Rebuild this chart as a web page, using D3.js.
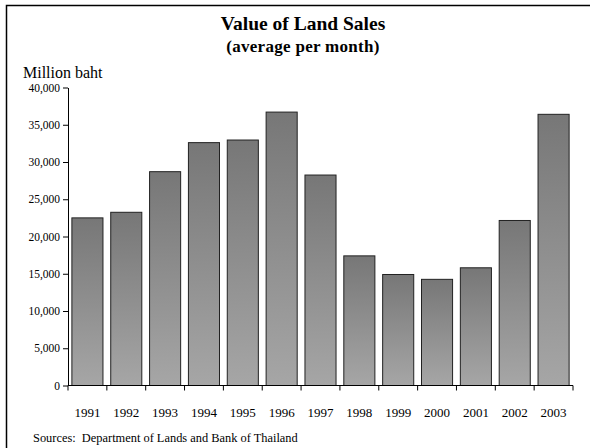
<!DOCTYPE html>
<html>
<head>
<meta charset="utf-8">
<script src="https://cdn.jsdelivr.net/npm/d3@7"></script>
<style>
  body { margin: 0; background: #fff; }
  svg { display: block; font-family: "Liberation Serif", "Times New Roman", serif; }
  .axis path, .axis line { stroke: #000; }
  .axis text { fill: #000; }
</style>
</head>
<body>
<div id="chart"></div>
<script>
// data
const years = ['1991', '1992', '1993', '1994', '1995', '1996', '1997',
  '1998', '1999', '2000', '2001', '2002', '2003'];
const sales = [22500, 23250, 28700, 32600, 32950, 36700, 28250,
  17400, 14900, 14250, 15800, 22150, 36400];
const yTicks = [0, 5000, 10000, 15000, 20000, 25000, 30000, 35000, 40000];

const width = 590;
const height = 448;
const margin = { top: 87.5, right: 17, bottom: 62.5, left: 68 };
const innerW = width - margin.left - margin.right;
const innerH = height - margin.top - margin.bottom;
const serif = '"Liberation Serif", "Times New Roman", serif';

const svg = d3.select('#chart').append('svg')
    .attr('width', width)
    .attr('height', height);

// frame
svg.append('rect')
    .attr('x', 6.5)
    .attr('y', 5.5)
    .attr('width', width + 10)
    .attr('height', height + 10)
    .attr('fill', 'none')
    .attr('stroke', '#000')
    .attr('stroke-width', 1.5);

const grad = svg.append('defs').append('linearGradient')
    .attr('id', 'barGrad')
    .attr('x1', 0).attr('y1', 0)
    .attr('x2', 0).attr('y2', 1);
grad.append('stop').attr('offset', '0%').attr('stop-color', '#777');
grad.append('stop').attr('offset', '100%').attr('stop-color', '#a6a6a6');

// titles
svg.append('text')
    .attr('x', 303)
    .attr('y', 30)
    .attr('text-anchor', 'middle')
    .attr('font-size', '19.5px')
    .attr('font-weight', 'bold')
    .text('Value of Land Sales');

svg.append('text')
    .attr('x', 303)
    .attr('y', 52)
    .attr('text-anchor', 'middle')
    .attr('font-size', '17px')
    .attr('font-weight', 'bold')
    .attr('letter-spacing', '0.3px')
    .text('(average per month)');

svg.append('text')
    .attr('x', 23)
    .attr('y', 78)
    .attr('font-size', '16px')
    .text('Million baht');

svg.append('text')
    .attr('x', 33)
    .attr('y', 442)
    .attr('font-size', '12.4px')
    .attr('xml:space', 'preserve')
    .text('Sources:  Department of Lands and Bank of Thailand');

const g = svg.append('g')
    .attr('transform', `translate(${margin.left}, ${margin.top})`);

const x = d3.scaleBand()
    .domain(years)
    .range([0, innerW])
    .paddingInner(0.2)
    .paddingOuter(0.1);

const y = d3.scaleLinear()
    .domain([0, 40000])
    .range([innerH, 0]);

// bars
g.selectAll('.bar')
    .data(sales)
  .enter().append('rect')
    .attr('class', 'bar')
    .attr('x', (d, i) => x(years[i]))
    .attr('y', d => y(d))
    .attr('width', x.bandwidth())
    .attr('height', d => innerH - y(d))
    .attr('fill', 'url(#barGrad)')
    .attr('stroke', '#222')
    .attr('stroke-width', 1);

// y axis
g.append('g')
    .attr('class', 'y axis')
    .call(d3.axisLeft(y).tickValues(yTicks).tickSize(5).tickPadding(3)
      .tickFormat(d3.format(',')).tickSizeOuter(0))
    .attr('font-family', serif)
    .attr('font-size', '11.5px');

// x axis with ticks on band edges
const xAxisG = g.append('g')
    .attr('class', 'x axis')
    .attr('transform', `translate(0, ${innerH})`);

xAxisG.append('line')
    .attr('x1', 0).attr('x2', innerW)
    .attr('y1', 0).attr('y2', 0)
    .attr('stroke', '#000');

const edges = d3.range(years.length + 1).map(i => i * innerW / years.length);
xAxisG.selectAll('.edge')
    .data(edges)
  .enter().append('line')
    .attr('class', 'edge')
    .attr('x1', d => d).attr('x2', d => d)
    .attr('y1', 0).attr('y2', 5)
    .attr('stroke', '#000');

xAxisG.selectAll('.lbl')
    .data(years)
  .enter().append('text')
    .attr('class', 'lbl')
    .attr('x', d => x(d) + x.bandwidth() / 2)
    .attr('y', 31)
    .attr('text-anchor', 'middle')
    .attr('font-size', '13px')
    .text(d => d);
</script>
</body>
</html>
